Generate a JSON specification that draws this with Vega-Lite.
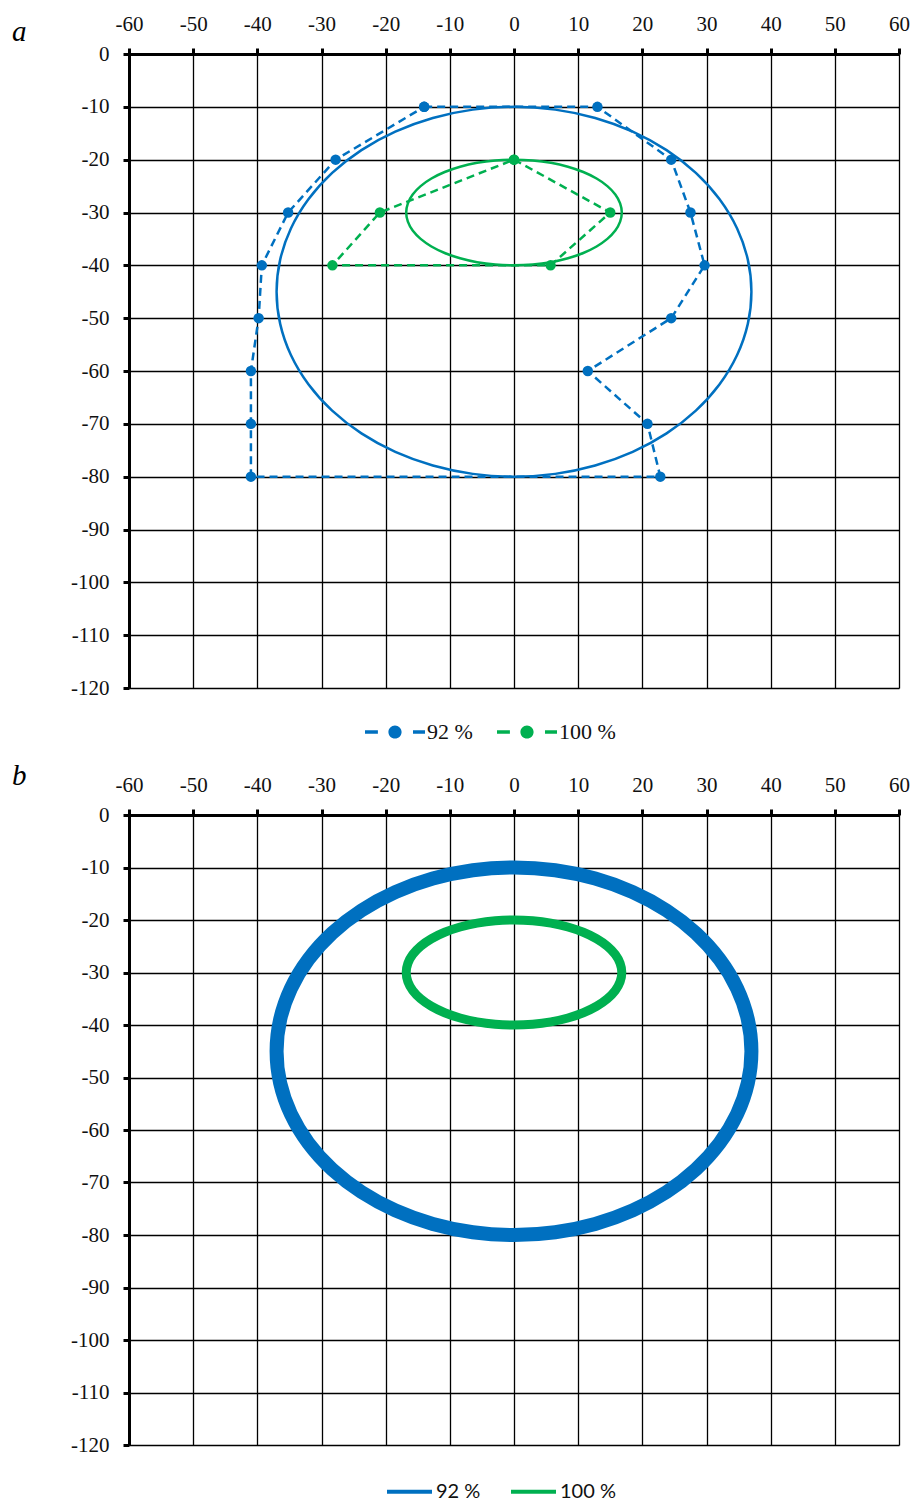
{
"$schema":"https://vega.github.io/schema/vega-lite/v6.json",
"background":"white",
"padding":{"left":12,"top":13,"right":0,"bottom":0},
"config":{
 "view":{"stroke":null},
 "axis":{"grid":true,"gridColor":"black","gridOpacity":1,"gridWidth":1.3,"domainColor":"black","domainWidth":3,"tickColor":"black","tickWidth":3,"tickSize":6,"labelFont":"Liberation Serif","labelFontSize":21,"labelColor":"#111","title":null,"labelFlush":false,"labelExpr":"'' + datum.value"}
},
"datasets":{
 "ell":[
{"s":"92 %","i":0,"x":37,"y":-45},{"s":"92 %","i":1,"x":36.44,"y":-38.92},{"s":"92 %","i":2,"x":34.77,"y":-33.03},{"s":"92 %","i":3,"x":32.04,"y":-27.5},{"s":"92 %","i":4,"x":28.34,"y":-22.5},{"s":"92 %","i":5,"x":23.78,"y":-18.19},{"s":"92 %","i":6,"x":18.5,"y":-14.69},{"s":"92 %","i":7,"x":12.65,"y":-12.11},{"s":"92 %","i":8,"x":6.42,"y":-10.53},{"s":"92 %","i":9,"x":0,"y":-10},{"s":"92 %","i":10,"x":-6.42,"y":-10.53},{"s":"92 %","i":11,"x":-12.65,"y":-12.11},{"s":"92 %","i":12,"x":-18.5,"y":-14.69},{"s":"92 %","i":13,"x":-23.78,"y":-18.19},{"s":"92 %","i":14,"x":-28.34,"y":-22.5},{"s":"92 %","i":15,"x":-32.04,"y":-27.5},{"s":"92 %","i":16,"x":-34.77,"y":-33.03},{"s":"92 %","i":17,"x":-36.44,"y":-38.92},{"s":"92 %","i":18,"x":-37,"y":-45},{"s":"92 %","i":19,"x":-36.44,"y":-51.08},{"s":"92 %","i":20,"x":-34.77,"y":-56.97},{"s":"92 %","i":21,"x":-32.04,"y":-62.5},{"s":"92 %","i":22,"x":-28.34,"y":-67.5},{"s":"92 %","i":23,"x":-23.78,"y":-71.81},{"s":"92 %","i":24,"x":-18.5,"y":-75.31},{"s":"92 %","i":25,"x":-12.65,"y":-77.89},{"s":"92 %","i":26,"x":-6.42,"y":-79.47},{"s":"92 %","i":27,"x":0,"y":-80},{"s":"92 %","i":28,"x":6.42,"y":-79.47},{"s":"92 %","i":29,"x":12.65,"y":-77.89},{"s":"92 %","i":30,"x":18.5,"y":-75.31},{"s":"92 %","i":31,"x":23.78,"y":-71.81},{"s":"92 %","i":32,"x":28.34,"y":-67.5},{"s":"92 %","i":33,"x":32.04,"y":-62.5},{"s":"92 %","i":34,"x":34.77,"y":-56.97},{"s":"92 %","i":35,"x":36.44,"y":-51.08},
{"s":"100 %","i":0,"x":16.8,"y":-30},{"s":"100 %","i":1,"x":16.54,"y":-28.26},{"s":"100 %","i":2,"x":15.79,"y":-26.58},{"s":"100 %","i":3,"x":14.55,"y":-25},{"s":"100 %","i":4,"x":12.87,"y":-23.57},{"s":"100 %","i":5,"x":10.8,"y":-22.34},{"s":"100 %","i":6,"x":8.4,"y":-21.34},{"s":"100 %","i":7,"x":5.75,"y":-20.6},{"s":"100 %","i":8,"x":2.92,"y":-20.15},{"s":"100 %","i":9,"x":0,"y":-20},{"s":"100 %","i":10,"x":-2.92,"y":-20.15},{"s":"100 %","i":11,"x":-5.75,"y":-20.6},{"s":"100 %","i":12,"x":-8.4,"y":-21.34},{"s":"100 %","i":13,"x":-10.8,"y":-22.34},{"s":"100 %","i":14,"x":-12.87,"y":-23.57},{"s":"100 %","i":15,"x":-14.55,"y":-25},{"s":"100 %","i":16,"x":-15.79,"y":-26.58},{"s":"100 %","i":17,"x":-16.54,"y":-28.26},{"s":"100 %","i":18,"x":-16.8,"y":-30},{"s":"100 %","i":19,"x":-16.54,"y":-31.74},{"s":"100 %","i":20,"x":-15.79,"y":-33.42},{"s":"100 %","i":21,"x":-14.55,"y":-35},{"s":"100 %","i":22,"x":-12.87,"y":-36.43},{"s":"100 %","i":23,"x":-10.8,"y":-37.66},{"s":"100 %","i":24,"x":-8.4,"y":-38.66},{"s":"100 %","i":25,"x":-5.75,"y":-39.4},{"s":"100 %","i":26,"x":-2.92,"y":-39.85},{"s":"100 %","i":27,"x":0,"y":-40},{"s":"100 %","i":28,"x":2.92,"y":-39.85},{"s":"100 %","i":29,"x":5.75,"y":-39.4},{"s":"100 %","i":30,"x":8.4,"y":-38.66},{"s":"100 %","i":31,"x":10.8,"y":-37.66},{"s":"100 %","i":32,"x":12.87,"y":-36.43},{"s":"100 %","i":33,"x":14.55,"y":-35},{"s":"100 %","i":34,"x":15.79,"y":-33.42},{"s":"100 %","i":35,"x":16.54,"y":-31.74}
 ],
 "dash":[
{"s":"92 %","i":0,"x":-14,"y":-10},{"s":"92 %","i":1,"x":13,"y":-10},{"s":"92 %","i":2,"x":24.5,"y":-20},{"s":"92 %","i":3,"x":27.5,"y":-30},{"s":"92 %","i":4,"x":29.7,"y":-40},{"s":"92 %","i":5,"x":24.5,"y":-50},{"s":"92 %","i":6,"x":11.5,"y":-60},{"s":"92 %","i":7,"x":20.8,"y":-70},{"s":"92 %","i":8,"x":22.8,"y":-80},{"s":"92 %","i":9,"x":-41,"y":-80},{"s":"92 %","i":10,"x":-41,"y":-70},{"s":"92 %","i":11,"x":-41,"y":-60},{"s":"92 %","i":12,"x":-39.8,"y":-50},{"s":"92 %","i":13,"x":-39.3,"y":-40},{"s":"92 %","i":14,"x":-35.2,"y":-30},{"s":"92 %","i":15,"x":-27.8,"y":-20},{"s":"92 %","i":16,"x":-14,"y":-10},
{"s":"100 %","i":0,"x":0,"y":-20},{"s":"100 %","i":1,"x":15,"y":-30},{"s":"100 %","i":2,"x":5.7,"y":-40},{"s":"100 %","i":3,"x":-28.3,"y":-40},{"s":"100 %","i":4,"x":-20.9,"y":-30},{"s":"100 %","i":5,"x":0,"y":-20}
 ]
},
"resolve":{"scale":{"x":"independent","y":"independent","color":"independent"},"legend":{"color":"independent"}},
"spacing":19,
"vconcat":[
{
 "width":770,"height":634,
 "title":{"text":"a","anchor":"start","frame":"group","dx":-117,"dy":38,"font":"Liberation Serif","fontStyle":"italic","fontWeight":"normal","fontSize":29,"color":"black"},
 "encoding":{
  "x":{"field":"x","type":"quantitative","scale":{"domain":[-60,60],"nice":false,"zero":false},"axis":{"orient":"top","values":[-60,-50,-40,-30,-20,-10,0,10,20,30,40,50,60],"labelPadding":14}},
  "y":{"field":"y","type":"quantitative","scale":{"domain":[-120,0],"nice":false,"zero":false},"axis":{"values":[-120,-110,-100,-90,-80,-70,-60,-50,-40,-30,-20,-10,0],"labelPadding":14}},
  "order":{"field":"i","type":"quantitative"}
 },
 "layer":[
  {"data":{"name":"ell"},"mark":{"type":"line","strokeWidth":2.5,"interpolate":"cardinal-closed"},
   "encoding":{"detail":{"field":"s"},"stroke":{"condition":{"test":"datum.s === '92 %'","value":"#0070C0"},"value":"#00B050"}}},
  {"data":{"name":"dash"},"mark":{"type":"line","strokeWidth":2.5,"strokeDash":[8,5]},
   "encoding":{"detail":{"field":"s"},"stroke":{"condition":{"test":"datum.s === '92 %'","value":"#0070C0"},"value":"#00B050"}}},
  {"data":{"name":"dash"},"mark":{"type":"point","filled":true,"opacity":1,"size":110},
   "encoding":{
    "color":{"field":"s","type":"nominal","scale":{"domain":["92 %","100 %"],"range":["#0070C0","#00B050"]},
    "legend":{"orient":"none","legendX":236,"legendY":648,"direction":"horizontal","title":null,
     "symbolType":"M-1,-0.06L-0.57,-0.06L-0.57,0.06L-1,0.06Z M-0.22,0A0.22,0.22,0,1,1,0.22,0A0.22,0.22,0,1,1,-0.22,0Z M0.6,-0.06L1,-0.06L1,0.06L0.6,0.06Z",
     "symbolSize":3600,"symbolStrokeWidth":0,"symbolOpacity":1,"labelFont":"Liberation Serif","labelFontSize":22,"labelColor":"#111","labelOffset":2,"columnPadding":24}}}}
 ]
},
{
 "width":770,"height":630,
 "title":{"text":"b","anchor":"start","frame":"group","dx":-117,"dy":21,"font":"Liberation Serif","fontStyle":"italic","fontWeight":"normal","fontSize":29,"color":"black"},
 "encoding":{
  "x":{"field":"x","type":"quantitative","scale":{"domain":[-60,60],"nice":false,"zero":false},"axis":{"orient":"top","values":[-60,-50,-40,-30,-20,-10,0,10,20,30,40,50,60],"labelPadding":14}},
  "y":{"field":"y","type":"quantitative","scale":{"domain":[-120,0],"nice":false,"zero":false},"axis":{"values":[-120,-110,-100,-90,-80,-70,-60,-50,-40,-30,-20,-10,0],"labelPadding":14}},
  "order":{"field":"i","type":"quantitative"}
 },
 "layer":[
  {"data":{"name":"ell"},"mark":{"type":"line","interpolate":"cardinal-closed"},
   "encoding":{
    "strokeWidth":{"condition":{"test":"datum.s === '92 %'","value":14},"value":9},
    "color":{"field":"s","type":"nominal","scale":{"domain":["92 %","100 %"],"range":["#0070C0","#00B050"]},
    "legend":{"orient":"none","legendX":256,"legendY":652,"direction":"horizontal","title":null,"symbolType":"stroke","symbolSize":2025,"symbolStrokeWidth":4,"labelFont":"Lato","labelFontSize":20,"labelColor":"#111","labelOffset":2,"columnPadding":22}}}}
 ]
}
]
}
